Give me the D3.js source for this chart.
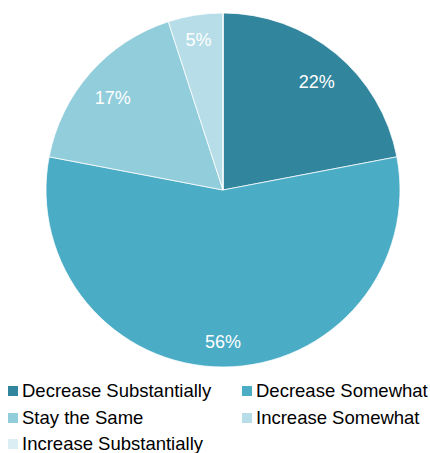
<!DOCTYPE html>
<html>
<head>
<meta charset="utf-8">
<script src="https://cdn.jsdelivr.net/npm/d3@7"></script>
<style>
  body { margin: 0; background: #fff; }
  text { font-family: "Liberation Sans", Arial, sans-serif; }
</style>
</head>
<body>
<div id="chart"></div>
<script>
// categories and values (percent)
const categories = ['Decrease Substantially', 'Decrease Somewhat', 'Stay the Same', 'Increase Somewhat', 'Increase Substantially'];
const values = [22, 56, 17, 5, 0];
const colors = ['#31859c', '#4bacc6', '#92cddc', '#b7dee8', '#daeef3'];

const width = 430, height = 453;
const cx = 223, cy = 190, radius = 177;

const svg = d3.select('#chart')
    .append('svg')
    .attr('width', width)
    .attr('height', height);

const data = categories.map((c, i) => ({ category: c, value: values[i] }));
const color = d3.scaleOrdinal().domain(categories).range(colors);

const pie = d3.pie().sort(null).value(d => d.value);
const arc = d3.arc().innerRadius(0).outerRadius(radius);
// small slices get their label pushed further out
const labelArc = d3.arc()
    .innerRadius(d => d.data.value < 10 ? 157 : 147)
    .outerRadius(d => d.data.value < 10 ? 157 : 147);

const g = svg.append('g').attr('transform', `translate(${cx},${cy})`);
const arcs = pie(data);

g.selectAll('path')
    .data(arcs)
    .enter()
    .append('path')
    .attr('d', arc)
    .attr('fill', d => color(d.data.category))
    .attr('stroke', '#fff')
    .attr('stroke-width', 0.75);

// % labels
g.selectAll('text.lbl')
    .data(arcs.filter(d => d.data.value > 0))
    .enter()
    .append('text')
    .attr('class', 'lbl')
    .attr('transform', d => {
        const [x, y] = labelArc.centroid(d);
        return `translate(${x},${y + 5})`;
    })
    .attr('text-anchor', 'middle')
    .attr('dy', '0.35em')
    .style('font-size', '18px')
    .style('fill', '#fff')
    .text(d => d.data.value + '%');

// legend, two columns
const legend = svg.append('g');
const cols = [8, 242];
const rowY = [391, 418, 444];

const item = legend.selectAll('g')
    .data(categories)
    .enter()
    .append('g')
    .attr('transform', (d, i) => `translate(${cols[i % 2]},${rowY[Math.floor(i / 2)]})`);

item.append('rect')
    .attr('x', 0)
    .attr('y', -5)
    .attr('width', 10)
    .attr('height', 10)
    .attr('fill', d => color(d));

item.append('text')
    .attr('x', 14)
    .attr('y', 0)
    .attr('dy', '0.33em')
    .style('font-size', '18.5px')
    .style('fill', '#000')
    .text(d => d);
</script>
</body>
</html>
